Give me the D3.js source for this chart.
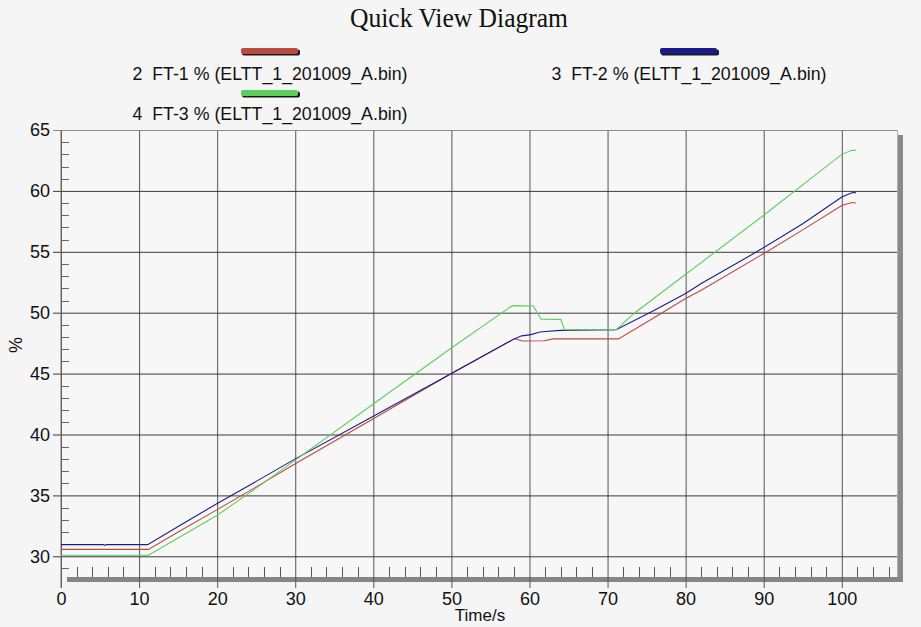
<!DOCTYPE html>
<html>
<head>
<meta charset="utf-8">
<script src="https://cdn.jsdelivr.net/npm/d3@7"></script>
<style>
  html, body { margin: 0; padding: 0; background: #f5f5f5; }
  svg { display: block; font-family: "Liberation Sans", Arial, sans-serif; }
</style>
</head>
<body>
<svg id="chart" width="921" height="627"></svg>
<script>
// --- data ---
const ft1Time  = [0, 5.5, 11.2, 15, 20, 25, 30, 40, 50, 58.1, 59.1, 61.9, 63, 71.4, 76, 80, 82, 90.4, 95, 100, 101.3, 101.8];
const ft1Value = [30.57, 30.57, 30.57, 32.0, 33.83, 35.7, 37.6, 41.3, 45.0, 47.87, 47.68, 47.7, 47.85, 47.85, 49.6, 51.16, 51.84, 55.0, 56.8, 58.8, 59.05, 59.0];

const ft2Time  = [0, 5.4, 5.6, 5.8, 11.1, 15, 20, 25, 30, 40, 50, 58.1, 59, 60.2, 61.2, 62, 64, 71.1, 76, 80, 82, 89.1, 95, 100, 101.3, 101.8];
const ft2Value = [30.96, 30.96, 30.9, 30.96, 30.96, 32.45, 34.33, 36.15, 38.0, 41.5, 45.0, 47.87, 48.1, 48.2, 48.4, 48.45, 48.55, 48.6, 50.2, 51.57, 52.39, 55.0, 57.3, 59.5, 59.85, 59.86];

const ft3Time  = [0, 11.2, 15, 20, 25, 30, 40, 50, 57.6, 58, 60.5, 61.5, 64, 64.5, 71.1, 73.5, 79, 90, 100, 101.3, 101.8];
const ft3Value = [30.08, 30.08, 31.5, 33.37, 35.6, 37.9, 42.5, 47.1, 50.5, 50.58, 50.55, 49.46, 49.45, 48.6, 48.6, 50.0, 52.66, 58.0, 63.0, 63.33, 63.33];

const seriesNames  = ['2  FT-1 % (ELTT_1_201009_A.bin)', '3  FT-2 % (ELTT_1_201009_A.bin)', '4  FT-3 % (ELTT_1_201009_A.bin)'];
const seriesColors = ['#bd4a40', '#1c1c86', '#5ccf5c'];
const xTicks = [0, 10, 20, 30, 40, 50, 60, 70, 80, 90, 100];
const yTicks = [30, 35, 40, 45, 50, 55, 60, 65];

const svg = d3.select('#chart');
const W = 921, H = 627;
const plot = { left: 61, right: 898, top: 130, bottom: 577 };

const x = d3.scaleLinear([0, 107.2], [plot.left, plot.right]);
const y = d3.scaleLinear([28.3, 65], [plot.bottom, plot.top]);

svg.append('rect').attr('width', W).attr('height', H).attr('fill', '#f5f5f5');

// title
svg.append('text')
  .attr('x', 459).attr('y', 27)
  .attr('text-anchor', 'middle')
  .attr('font-family', '"Liberation Serif", "Times New Roman", serif')
  .attr('font-size', 28)
  .attr('textLength', 218).attr('lengthAdjust', 'spacingAndGlyphs')
  .attr('fill', '#111')
  .text('Quick View Diagram');

// legend
const legendPos = [
  { cx: 270, sy: 48, ty: 80 },
  { cx: 689, sy: 48, ty: 80 },
  { cx: 270, sy: 90, ty: 120 }
];
const legend = svg.append('g').attr('class', 'legend')
  .selectAll('g').data(seriesNames).join('g')
    .attr('transform', (d, i) => `translate(${legendPos[i].cx}, 0)`);
legend.append('rect')
  .attr('x', -28).attr('y', (d, i) => legendPos[i].sy + 1.5)
  .attr('width', 58).attr('height', 6).attr('rx', 2)
  .attr('fill', '#1a1a1a');
legend.append('rect')
  .attr('x', -29).attr('y', (d, i) => legendPos[i].sy)
  .attr('width', 57).attr('height', 6).attr('rx', 2)
  .attr('fill', (d, i) => seriesColors[i]);
legend.append('text')
  .attr('y', (d, i) => legendPos[i].ty)
  .attr('text-anchor', 'middle')
  .attr('font-size', 18)
  .attr('textLength', 275).attr('lengthAdjust', 'spacingAndGlyphs')
  .attr('fill', '#111')
  .style('white-space', 'pre')
  .text(d => d);

// plot background
svg.append('rect')
  .attr('x', plot.left).attr('y', plot.top)
  .attr('width', plot.right - plot.left).attr('height', plot.bottom - plot.top)
  .attr('fill', '#f7f7f7');

// shadow frame right and bottom
svg.append('rect')
  .attr('x', plot.right).attr('y', plot.top + 5)
  .attr('width', 5).attr('height', plot.bottom - plot.top)
  .attr('fill', '#8a8a8a');
svg.append('rect')
  .attr('x', plot.left + 6).attr('y', plot.bottom)
  .attr('width', plot.right - plot.left - 1).attr('height', 5)
  .attr('fill', '#858585');

// x axis with full-height grid lines
svg.append('g')
  .attr('transform', `translate(0, 588)`)
  .call(d3.axisBottom(x).tickValues(xTicks).tickSize(-(588 - plot.top)).tickPadding(4))
  .call(g => g.select('.domain').remove())
  .call(g => g.selectAll('.tick line').attr('stroke', '#555'))
  .call(g => g.selectAll('.tick text').attr('font-size', 18).attr('fill', '#111'));

// y axis with full-width grid lines
svg.append('g')
  .attr('transform', `translate(53, 0)`)
  .call(d3.axisLeft(y).tickValues(yTicks).tickSize(-(plot.right - 53)).tickPadding(3))
  .call(g => g.select('.domain').remove())
  .call(g => g.selectAll('.tick line').attr('stroke', d => d === 65 ? '#8c8c8c' : '#3a3a3a'))
  .call(g => g.selectAll('.tick text').attr('font-size', 18).attr('fill', '#111'));

// left axis line and right border
svg.append('line')
  .attr('x1', plot.left).attr('x2', plot.left)
  .attr('y1', plot.top).attr('y2', 588)
  .attr('stroke', '#6e6e6e');
svg.append('line')
  .attr('x1', plot.right - 0.5).attr('x2', plot.right - 0.5)
  .attr('y1', plot.top).attr('y2', plot.bottom)
  .attr('stroke', '#b0b0b0');

// minor ticks
const xMinor = d3.range(2, 107, 2).filter(v => v % 10 !== 0);
svg.append('g').selectAll('line').data(xMinor).join('line')
  .attr('x1', d => Math.round(x(d)) + 0.5).attr('x2', d => Math.round(x(d)) + 0.5)
  .attr('y1', plot.bottom - 10).attr('y2', plot.bottom)
  .attr('stroke', '#555');
const yMinor = d3.range(29, 65, 1).filter(v => v % 5 !== 0);
svg.append('g').selectAll('line').data(yMinor).join('line')
  .attr('x1', plot.left).attr('x2', plot.left + 8)
  .attr('y1', d => Math.round(y(d)) + 0.5).attr('y2', d => Math.round(y(d)) + 0.5)
  .attr('stroke', '#666');

// axis titles
svg.append('text')
  .attr('x', 480).attr('y', 621)
  .attr('text-anchor', 'middle').attr('font-size', 17).attr('fill', '#111')
  .text('Time/s');
svg.append('text')
  .attr('transform', 'translate(22, 345) rotate(-90)')
  .attr('text-anchor', 'middle').attr('font-size', 18).attr('fill', '#111')
  .text('%');

// series lines
const series = [
  { t: ft1Time, v: ft1Value },
  { t: ft2Time, v: ft2Value },
  { t: ft3Time, v: ft3Value }
];
const line = d3.line().x(d => x(d[0])).y(d => y(d[1]));
svg.append('g').attr('class', 'line-group')
  .selectAll('path').data(series).join('path')
    .attr('d', s => line(s.t.map((t, i) => [t, s.v[i]])))
    .attr('fill', 'none')
    .attr('stroke', (s, i) => seriesColors[i])
    .attr('stroke-width', 1.1);
</script>
</body>
</html>
